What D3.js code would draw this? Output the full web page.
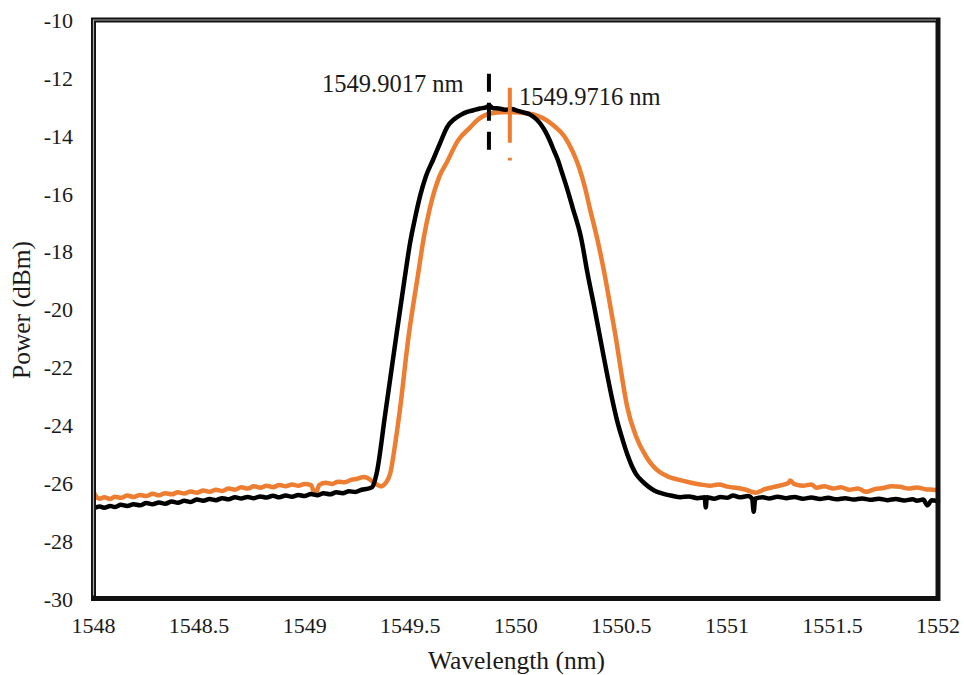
<!DOCTYPE html>
<html>
<head>
<meta charset="utf-8">
<script src="https://cdn.jsdelivr.net/npm/d3@7"></script>
<style>
  html, body { margin: 0; padding: 0; background: #fff; }
  svg { display: block; }
  text { font-family: "Liberation Serif", "Times New Roman", serif; fill: #1a1a1a; }
</style>
</head>
<body>
<svg id="chart" width="964" height="675"></svg>
<script>
// ---------- data ----------
const xTicks = [1548, 1548.5, 1549, 1549.5, 1550, 1550.5, 1551, 1551.5, 1552];
const yTicks = [-10, -12, -14, -16, -18, -20, -22, -24, -26, -28, -30];

// Black trace: [wavelength (nm), power (dBm)]
const blackTrace = [
  [1548.00,-26.88],[1548.03,-26.82],[1548.05,-26.86],[1548.08,-26.80],[1548.10,-26.84],[1548.13,-26.76],
  [1548.16,-26.80],[1548.19,-26.74],[1548.22,-26.78],[1548.25,-26.70],[1548.28,-26.74],[1548.31,-26.68],
  [1548.34,-26.72],[1548.37,-26.65],[1548.40,-26.69],[1548.43,-26.62],[1548.46,-26.66],[1548.49,-26.58],
  [1548.52,-26.62],[1548.55,-26.56],[1548.58,-26.60],[1548.61,-26.53],[1548.64,-26.57],[1548.67,-26.50],
  [1548.70,-26.54],[1548.73,-26.49],[1548.76,-26.53],[1548.79,-26.47],[1548.82,-26.51],[1548.85,-26.45],
  [1548.88,-26.50],[1548.91,-26.44],[1548.94,-26.48],[1548.97,-26.42],[1549.00,-26.46],[1549.03,-26.39],
  [1549.06,-26.43],[1549.09,-26.36],[1549.12,-26.40],[1549.15,-26.33],[1549.18,-26.36],[1549.21,-26.29],
  [1549.24,-26.32],[1549.27,-26.24],[1549.30,-26.20],[1549.32,-26.15],
  [1549.3415,-25.66],[1549.381,-23.66],[1549.428,-21.24],[1549.476,-18.82],[1549.4993,-17.71],[1549.523,-16.85],
  [1549.547,-16.08],[1549.575,-15.39],[1549.608,-14.84],[1549.642,-14.25],[1549.675,-13.70],[1549.71,-13.42],
  [1549.74,-13.28],[1549.77,-13.18],
  [1549.80,-13.12],[1549.83,-13.06],[1549.86,-13.02],[1549.875,-12.96],[1549.89,-13.04],[1549.92,-13.06],
  [1549.95,-13.10],[1549.98,-13.08],[1550.01,-13.14],[1550.04,-13.20],[1550.07,-13.28],[1550.10,-13.45],
  [1550.12,-13.62],[1550.14,-13.85],[1550.16,-14.15],[1550.18,-14.50],[1550.20,-14.85],[1550.22,-15.30],
  [1550.24,-15.75],[1550.27,-16.50],[1550.31,-17.55],[1550.34,-18.76],[1550.37,-19.85],[1550.40,-21.00],
  [1550.43,-22.15],[1550.455,-23.05],[1550.48,-23.85],[1550.51,-24.60],[1550.53,-25.05],[1550.55,-25.42],
  [1550.57,-25.70],[1550.60,-25.95],[1550.63,-26.14],[1550.66,-26.28],[1550.70,-26.38],[1550.74,-26.45],
  [1550.78,-26.50],[1550.82,-26.47],[1550.86,-26.53],[1550.895,-26.50],[1550.90,-26.85],[1550.905,-26.50],
  [1550.94,-26.55],[1550.97,-26.49],[1551.00,-26.52],[1551.03,-26.44],[1551.06,-26.50],[1551.10,-26.46],
  [1551.12,-26.55],[1551.127,-27.00],[1551.134,-26.55],[1551.17,-26.50],[1551.20,-26.54],[1551.24,-26.48],
  [1551.28,-26.53],[1551.32,-26.49],[1551.36,-26.55],[1551.40,-26.51],[1551.44,-26.56],[1551.48,-26.52],
  [1551.52,-26.57],[1551.56,-26.53],[1551.60,-26.58],[1551.64,-26.54],[1551.68,-26.59],[1551.72,-26.55],
  [1551.76,-26.60],[1551.80,-26.56],[1551.84,-26.61],[1551.88,-26.57],[1551.90,-26.62],[1551.93,-26.58],
  [1551.95,-26.78],[1551.97,-26.60],[1552.00,-26.64]
];

// Orange trace: [wavelength (nm), power (dBm)]
const orangeTrace = [
  [1548.00,-26.30],[1548.01,-26.45],[1548.03,-26.55],[1548.05,-26.50],[1548.08,-26.56],[1548.10,-26.48],
  [1548.13,-26.52],[1548.16,-26.44],[1548.19,-26.49],[1548.22,-26.42],[1548.25,-26.46],[1548.28,-26.38],
  [1548.31,-26.43],[1548.34,-26.36],[1548.37,-26.40],[1548.40,-26.33],[1548.43,-26.37],[1548.46,-26.30],
  [1548.49,-26.34],[1548.52,-26.27],[1548.55,-26.31],[1548.58,-26.24],[1548.61,-26.28],[1548.64,-26.20],
  [1548.67,-26.24],[1548.70,-26.15],[1548.73,-26.20],[1548.76,-26.12],[1548.79,-26.17],[1548.82,-26.10],
  [1548.85,-26.15],[1548.88,-26.08],[1548.91,-26.12],[1548.94,-26.06],[1548.97,-26.10],[1549.00,-26.04],
  [1549.03,-26.08],[1549.05,-26.40],[1549.07,-26.07],[1549.10,-26.00],[1549.13,-26.04],[1549.16,-25.96],
  [1549.19,-25.98],[1549.22,-25.90],[1549.25,-25.86],[1549.28,-25.80],[1549.30,-25.84],[1549.32,-25.95],
  [1549.34,-26.05],[1549.36,-26.12],[1549.37,-26.10],[1549.385,-26.00],
  [1549.406,-25.66],[1549.43,-24.60],[1549.453,-23.38],[1549.49,-21.07],[1549.538,-18.76],[1549.565,-17.50],
  [1549.594,-16.48],[1549.64,-15.38],[1549.675,-14.90],[1549.726,-14.17],[1549.783,-13.72],[1549.82,-13.45],
  [1549.863,-13.26],[1549.91,-13.20],[1549.958,-13.18],[1550.02,-13.20],[1550.08,-13.26],[1550.13,-13.40],
  [1550.175,-13.62],[1550.23,-14.02],[1550.27,-14.55],[1550.30,-15.10],[1550.33,-15.85],[1550.35,-16.48],
  [1550.387,-17.60],[1550.42,-18.76],[1550.448,-19.90],[1550.476,-21.07],[1550.50,-22.20],[1550.528,-23.38],
  [1550.57,-24.40],[1550.618,-25.10],[1550.65,-25.42],[1550.68,-25.62],[1550.72,-25.78],[1550.774,-25.90],
  [1550.82,-25.98],[1550.868,-26.05],[1550.92,-26.10],[1550.96,-26.06],[1551.009,-26.14],[1551.05,-26.18],
  [1551.09,-26.24],[1551.137,-26.34],[1551.18,-26.22],[1551.22,-26.15],[1551.26,-26.08],[1551.292,-26.00],
  [1551.30,-25.92],[1551.32,-26.05],[1551.36,-26.10],[1551.40,-26.06],[1551.425,-26.17],[1551.46,-26.12],
  [1551.505,-26.20],[1551.54,-26.15],[1551.58,-26.24],[1551.62,-26.20],[1551.66,-26.31],[1551.70,-26.22],
  [1551.74,-26.18],[1551.78,-26.12],[1551.82,-26.14],[1551.86,-26.20],[1551.90,-26.16],[1551.94,-26.22],
  [1551.976,-26.24],[1552.00,-26.26]
];

// Peak markers
const peakLabels = ["1549.9017 nm", "1549.9716 nm"];
const peakMarkerX = [1549.873, 1549.972];        // drawn positions (nm)
const peakMarkerSpan = [[-11.86, -14.76], [-12.34, -14.86]]; // dBm

// ---------- layout ----------
const svg = d3.select("#chart");
const x = d3.scaleLinear().domain([1548, 1552]).range([93.5, 938]);
const y = d3.scaleLinear().domain([-30, -10]).range([598.5, 20]);

// Tick labels
svg.append("g").selectAll("text").data(yTicks).join("text")
  .attr("x", 73).attr("y", d => y(d) + 8)
  .attr("text-anchor", "end").attr("font-size", 22)
  .text(d => d);

svg.append("g").selectAll("text").data(xTicks).join("text")
  .attr("x", d => x(d)).attr("y", 633)
  .attr("text-anchor", "middle").attr("font-size", 22)
  .text(d => d);

// Axis titles
svg.append("text").attr("x", 516.5).attr("y", 669)
  .attr("text-anchor", "middle").attr("font-size", 25.5)
  .text("Wavelength (nm)");
svg.append("text").attr("transform", "translate(30,310) rotate(-90)")
  .attr("text-anchor", "middle").attr("font-size", 25.5)
  .text("Power (dBm)");

// Curves
const line = d3.line().curve(d3.curveMonotoneX).x(d => x(d[0])).y(d => y(d[1]));
svg.append("path").datum(orangeTrace).attr("d", line)
  .attr("fill", "none").attr("stroke", "#ED7D31").attr("stroke-width", 4.5)
  .attr("stroke-linejoin", "round").attr("stroke-linecap", "round");
svg.append("path").datum(blackTrace).attr("d", line)
  .attr("fill", "none").attr("stroke", "#000").attr("stroke-width", 4.5)
  .attr("stroke-linejoin", "round").attr("stroke-linecap", "round");

// Peak markers
svg.append("line")
  .attr("x1", x(peakMarkerX[0])).attr("x2", x(peakMarkerX[0]))
  .attr("y1", y(peakMarkerSpan[0][0])).attr("y2", y(peakMarkerSpan[0][1]))
  .attr("stroke", "#000").attr("stroke-width", 4).attr("stroke-dasharray", "18,11");
svg.append("line")
  .attr("x1", x(peakMarkerX[1])).attr("x2", x(peakMarkerX[1]))
  .attr("y1", y(peakMarkerSpan[1][0])).attr("y2", y(peakMarkerSpan[1][1]))
  .attr("stroke", "#ED7D31").attr("stroke-width", 4).attr("stroke-dasharray", "55,15,3");

svg.append("text").attr("x", 322).attr("y", 92).attr("font-size", 24.5).text(peakLabels[0]);
svg.append("text").attr("x", 519).attr("y", 105).attr("font-size", 24.5).text(peakLabels[1]);

// Frame
const fx0 = x.range()[0], fx1 = x.range()[1], fy0 = y.range()[1], fy1 = y.range()[0];
svg.append("rect").attr("x", fx0).attr("y", fy0)
  .attr("width", fx1 - fx0).attr("height", fy1 - fy0)
  .attr("fill", "none").attr("stroke", "#111").attr("stroke-width", 5);
svg.append("path")
  .attr("d", `M${fx0},${fy1 - 3}L${fx0},${fy0}L${fx1 - 2},${fy0}`)
  .attr("fill", "none").attr("stroke", "#aaa").attr("stroke-width", 1.2);
</script>
</body>
</html>
